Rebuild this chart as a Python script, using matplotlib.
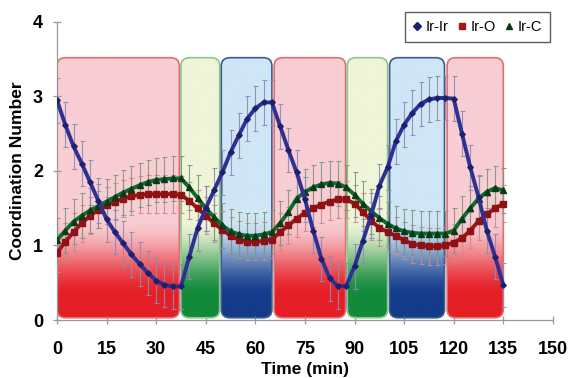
import numpy as np
import matplotlib
matplotlib.use("Agg")
import matplotlib.pyplot as plt
from matplotlib.patches import FancyBboxPatch
from matplotlib.lines import Line2D
from matplotlib.colors import to_rgb

plt.rcParams['font.family'] = ['Liberation Sans', 'DejaVu Sans']

# ---------------- data ----------------
time_min = [0, 2.5, 5, 7.5, 10, 12.5, 15, 17.5, 20, 22.5, 25, 27.5, 30, 32.5, 35, 37.5,
            40, 42.5, 45, 47.5, 50, 52.5, 55, 57.5, 60, 62.5, 65, 67.5, 70, 72.5, 75,
            77.5, 80, 82.5, 85, 87.5, 90, 92.5, 95, 97.5, 100, 102.5, 105, 107.5, 110,
            112.5, 115, 117.5, 120, 122.5, 125, 127.5, 130, 132.5, 135]

ir_ir = [2.95, 2.62, 2.33, 2.10, 1.85, 1.60, 1.35, 1.18, 1.03, 0.88, 0.75, 0.63, 0.53, 0.47, 0.45, 0.45,
         0.85, 1.23, 1.50, 1.74, 1.98, 2.25, 2.48, 2.70, 2.84, 2.92, 2.92, 2.60, 2.28, 1.98, 1.62,
         1.20, 0.82, 0.56, 0.45, 0.46, 0.72, 1.06, 1.40, 1.80, 2.05, 2.40, 2.62, 2.78, 2.90,
         2.96, 2.98, 2.98, 2.97, 2.50, 2.05, 1.65, 1.20, 0.85, 0.47]

ir_o = [0.90, 1.05, 1.18, 1.30, 1.40, 1.48, 1.54, 1.59, 1.63, 1.66, 1.68, 1.69, 1.69, 1.69, 1.69, 1.68,
        1.60, 1.50, 1.40, 1.30, 1.21, 1.13, 1.08, 1.05, 1.05, 1.06, 1.08, 1.18, 1.27, 1.36, 1.44,
        1.50, 1.55, 1.59, 1.62, 1.62, 1.56, 1.45, 1.33, 1.24, 1.18, 1.13, 1.07, 1.02, 1.00,
        0.99, 0.99, 1.00, 1.04, 1.10, 1.20, 1.33, 1.42, 1.50, 1.56]

ir_c = [1.07, 1.20, 1.32, 1.40, 1.47, 1.53, 1.59, 1.65, 1.71, 1.76, 1.81, 1.85, 1.88, 1.89, 1.90, 1.90,
        1.78, 1.64, 1.50, 1.38, 1.27, 1.19, 1.15, 1.13, 1.13, 1.15, 1.18, 1.30, 1.45, 1.63, 1.72,
        1.78, 1.82, 1.84, 1.83, 1.78, 1.68, 1.56, 1.46, 1.37, 1.29, 1.23, 1.19, 1.17, 1.16,
        1.16, 1.16, 1.16, 1.20, 1.36, 1.50, 1.63, 1.72, 1.77, 1.74]

ir_ir_err = 0.30
ir_o_err = 0.25
ir_c_err = 0.30

series_labels = ["Ir-Ir", "Ir-O", "Ir-C"]

# shaded regions: (start, end, kind)
region_start = [0, 37.5, 49.7, 65.7, 87.8, 100.6, 118.0]
region_end = [37.0, 49.2, 65.0, 87.3, 100.0, 117.2, 135.0]
region_kind = ["red", "green", "blue", "red", "green", "blue", "red"]
region_top = 3.52
region_bottom = 0.03

x_ticks = [0, 15, 30, 45, 60, 75, 90, 105, 120, 135, 150]
y_ticks = [0, 1, 2, 3, 4]

# ---------------- styling ----------------
region_style = {
    "red": ("#F8CDD3", "#E61E26", "#E07070"),
    "green": ("#EFF5D8", "#118A3A", "#8CC88C"),
    "blue": ("#CFE6F6", "#133B8A", "#3E5A8E"),
}

fig = plt.figure(figsize=(5.7, 3.78), dpi=100)
ax = fig.add_axes([0.100, 0.1534, 0.870, 0.7886])

xmin, xmax, ymin, ymax = 0, 150, 0, 4

def gradient_box(x0, x1, kind):
    top, bot, edge = region_style[kind]
    top = np.array(to_rgb(top)); bot = np.array(to_rgb(bot))
    radius_x = 2.6
    aspect = (0.11 / 2.6)
    patch = FancyBboxPatch((x0, region_bottom), x1 - x0, region_top - region_bottom,
                           boxstyle=f"round,pad=0,rounding_size={radius_x}",
                           mutation_aspect=aspect,
                           facecolor="none", edgecolor=edge, linewidth=1.2, zorder=2)
    ax.add_patch(patch)
    n = 300
    v = np.linspace(region_bottom, region_top, n)
    f = np.clip((1.35 - v) / (1.35 - 0.30), 0, 1)
    f = f * f * (3 - 2 * f)
    cols = top[None, :] * (1 - f[:, None]) + bot[None, :] * f[:, None]
    img = cols[:, None, :]
    im = ax.imshow(img, extent=(x0, x1, region_bottom, region_top), origin="lower",
                   aspect="auto", zorder=1, interpolation="bilinear")
    im.set_clip_path(patch)

for s, e, k in zip(region_start, region_end, region_kind):
    gradient_box(s, e, k)

# error bars
ax.errorbar(time_min, ir_o, yerr=ir_o_err, fmt="none", ecolor="#C98A8A", elinewidth=0.8,
            capsize=1.8, capthick=0.8, zorder=3, alpha=0.9)
ax.errorbar(time_min, ir_c, yerr=ir_c_err, fmt="none", ecolor="#7F977F", elinewidth=0.8,
            capsize=1.8, capthick=0.8, zorder=3, alpha=0.9)
ax.errorbar(time_min, ir_ir, yerr=ir_ir_err, fmt="none", ecolor="#8C8CB4", elinewidth=0.8,
            capsize=1.8, capthick=0.8, zorder=3, alpha=0.9)

# lines
ax.plot(time_min, ir_o, color="#A3161B", lw=2.8, marker="s", ms=3.8, mfc="#8E1116",
        mec="#8E1116", zorder=4, solid_capstyle="round")
ax.plot(time_min, ir_c, color="#0E6B2E", lw=2.8, marker="^", ms=3.8, mfc="#0A3A18",
        mec="#0A3A18", zorder=5, solid_capstyle="round")
ax.plot(time_min, ir_ir, color="#2E3192", lw=2.8, marker="D", ms=2.8, mfc="#1E206E",
        mec="#1E206E", zorder=6, solid_capstyle="round")

ax.set_xlim(xmin, xmax)
ax.set_ylim(ymin, ymax)
ax.set_facecolor("white")
ax.set_xticks(x_ticks)
ax.set_yticks(y_ticks)
ax.set_xticklabels([str(t) for t in x_ticks], fontsize=13, fontweight="bold")
ax.set_yticklabels([str(t) for t in y_ticks], fontsize=13, fontweight="bold")
for sp in ["top", "right"]:
    ax.spines[sp].set_visible(False)
for sp in ["left", "bottom"]:
    ax.spines[sp].set_color("#999999")
    ax.spines[sp].set_linewidth(0.9)
ax.tick_params(axis="both", direction="inout", length=6, width=0.9, color="#999999")
ax.tick_params(axis="x", pad=12)
ax.tick_params(axis="y", pad=7)
ax.set_xlabel("Time (min)", fontsize=12.5, fontweight="bold", labelpad=3)
ax.set_ylabel("Coordination Number", fontsize=12.5, fontweight="bold", labelpad=6)

handles = [
    Line2D([], [], ls="none", marker="D", ms=4, color="#1E206E"),
    Line2D([], [], ls="none", marker="s", ms=5, color="#A3161B"),
    Line2D([], [], ls="none", marker="^", ms=5, color="#0A3A18"),
]
leg = fig.legend(handles, series_labels, loc="upper right", bbox_to_anchor=(0.965, 0.968),
                 ncol=3, frameon=True, fancybox=False, fontsize=10.5, handlelength=0.6,
                 handletextpad=0.3, columnspacing=0.6, borderpad=0.55, borderaxespad=0)
leg.get_frame().set_edgecolor("#333333")
leg.get_frame().set_linewidth(1.0)

fig.savefig("out.png", dpi=100)
